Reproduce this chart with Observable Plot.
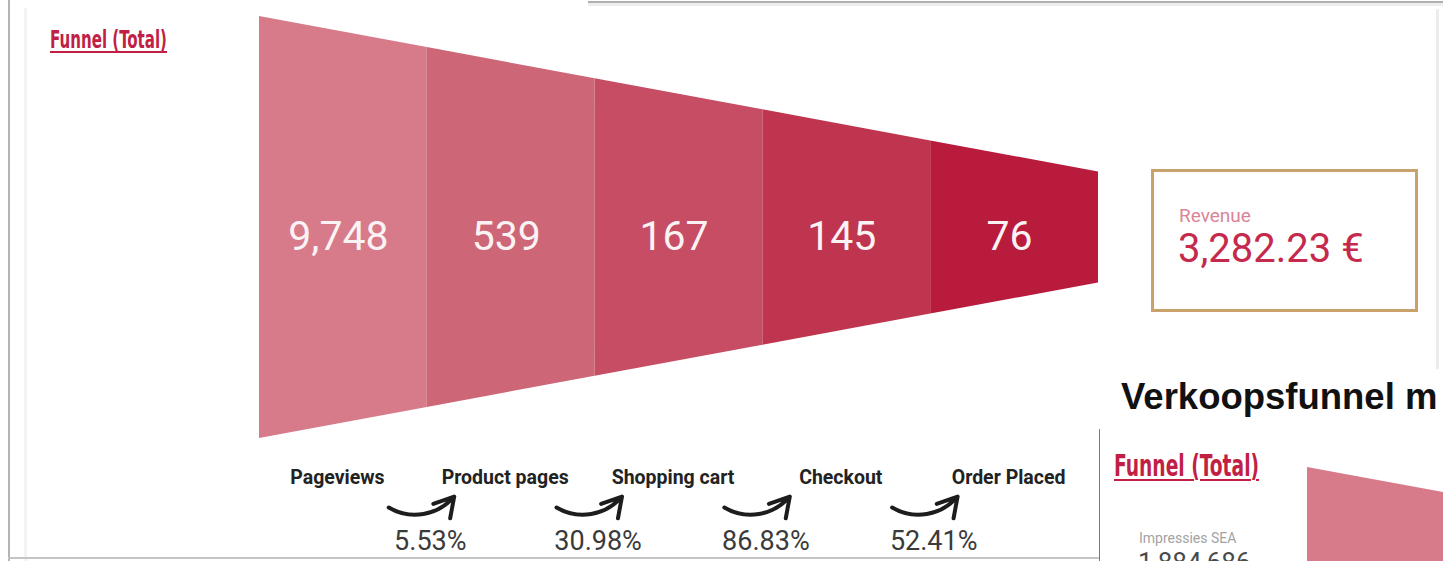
<!DOCTYPE html>
<html>
<head>
<meta charset="utf-8">
<script src="https://cdn.jsdelivr.net/npm/d3@7"></script>
<script src="https://cdn.jsdelivr.net/npm/@observablehq/plot@0.6"></script>
<style>
  html, body { margin: 0; padding: 0; background: #fff; overflow: hidden; }
  #page { position: relative; width: 1443px; height: 561px; overflow: hidden; background: #fff; font-family: Roboto, "Noto Sans", sans-serif; }
  .abs { position: absolute; white-space: nowrap; line-height: 1; }
  .ttl { font-family: "Liberation Sans Narrow", "DejaVu Sans Condensed", sans-serif; font-weight: 700; color: #c21f45; text-decoration: underline; text-decoration-thickness: 2px; text-underline-offset: 3px; transform: scaleX(0.67); transform-origin: left top; }
  .line { position: absolute; }
</style>
</head>
<body>
<div id="page">
  <div class="line" style="left:8px;top:0;width:2px;height:561px;background:#b4b4b4"></div>
  <div class="line" style="left:24px;top:8px;width:3px;height:553px;background:#f3f3f3"></div>
  <div class="line" style="left:8px;top:557px;width:1092px;height:2px;background:#c4c4c4"></div>
  <div class="line" style="left:588px;top:1px;width:855px;height:2px;background:#b0b0b0"></div>
  <div class="line" style="left:588px;top:3px;width:855px;height:3px;background:#ededed"></div>
  <div class="line" style="left:1436px;top:9px;width:3px;height:360px;background:#ececec"></div>
  <div class="line" style="left:1099px;top:429px;width:1px;height:132px;background:#7a7a7a"></div>

  <div id="chart" class="abs" style="left:0;top:0"></div>
  <div id="chart2" class="abs" style="left:1307px;top:467px"></div>

  <div class="abs ttl" style="left:50px;top:27px;font-size:25px">Funnel (Total)</div>
  <div class="abs ttl" style="left:1114px;top:450px;font-size:31px">Funnel (Total)</div>
  <div class="abs" style="left:1121px;top:379px;font-size:36.5px;font-weight:700;color:#111;font-family:'Liberation Sans', Arial, sans-serif">Verkoopsfunnel m</div>
  <div class="abs" style="left:1139px;top:531px;font-size:14px;color:#a3a3a3">Impressies SEA</div>
  <div id="imp" class="abs" style="left:1138px;top:549px;font-size:26px;color:#4a4a4a"></div>

  <div class="abs" style="left:1151px;top:169px;width:261px;height:137px;border:3px solid #c9a16b"></div>
  <div class="abs" style="left:1179px;top:206px;font-size:19px;color:#d98598">Revenue</div>
  <div id="rev" class="abs" style="left:1178px;top:229px;font-size:40px;color:#c52a4d"></div>
</div>
<script>
// ---- data ----
const stages = ["Pageviews", "Product pages", "Shopping cart", "Checkout", "Order Placed"];
const counts = [9748, 539, 167, 145, 76];
const conversionRates = [5.53, 30.98, 86.83, 52.41];
const revenue = 3282.23;
const impressionsSEA = 1884686;

// ---- style ----
const stageColors = ["#d77b8b", "#cd6677", "#c64d64", "#bf344f", "#b81b3b"];
const taperEnd = 0.263; // relative half-height of the funnel's narrow end

const n = stages.length;
const half = x => 1 - (1 - taperEnd) * x / n;
const shape = stages.flatMap((s, i) => [i, i + 1].map(x => ({stage: s, x, lo: -half(x), hi: half(x)})));
const stageRows = stages.map((s, i) => ({stage: s, i, count: counts[i]}));
const convRows = conversionRates.map((r, i) => ({i, rate: r}));

const fmtInt = d3.format(",");
const plot = Plot.plot({
  width: 1443,
  height: 561,
  marginLeft: 259,
  marginRight: 345,
  marginTop: 16,
  marginBottom: 123,
  x: {domain: [0, n], axis: null},
  y: {domain: [-1, 1], axis: null},
  color: {domain: stages, range: stageColors},
  style: {fontFamily: "Roboto, 'Noto Sans', sans-serif", background: "transparent", overflow: "visible"},
  marks: [
    Plot.area(shape, {x1: "x", y1: "lo", y2: "hi", z: "stage", fill: "stage"}),
    Plot.text(stageRows, {x: d => d.i + 0.5, y: 0, text: d => fmtInt(d.count), fill: "#fbf2f4", fontSize: 41, dy: 9, dx: -5}),
    Plot.text(stageRows, {x: d => d.i + 0.5, frameAnchor: "bottom", dy: 45, dx: -6, text: "stage", fontSize: 19.5, fontWeight: 700, fill: "#222"}),
    Plot.arrow(convRows, {x1: d => d.i + 1 - 0.2, x2: d => d.i + 1 + 0.19, y1: -1, y2: -0.948, dx: -5, dy: 69, bend: -40, headLength: 12, strokeWidth: 4, stroke: "#1d1d1d"}),
    Plot.text(convRows, {x: d => d.i + 1, frameAnchor: "bottom", dy: 111, dx: 3, text: d => d.rate.toFixed(2) + "%", fontSize: 27, fill: "#3b3b3b"})
  ]
});
document.getElementById("chart").appendChild(plot);

// second (cropped) funnel in the lower-right panel
const plot2 = Plot.plot({
  width: 136, height: 94, margin: 0,
  x: {domain: [0, 1], axis: null},
  y: {domain: [0, 1], axis: null},
  style: {background: "transparent"},
  marks: [Plot.area([{x: 0, top: 1}, {x: 1, top: 0.734}], {x1: "x", y1: 0, y2: "top", fill: stageColors[0]})]
});
document.getElementById("chart2").appendChild(plot2);

document.getElementById("rev").textContent = d3.format(",.2f")(revenue) + " €";
document.getElementById("imp").textContent = fmtInt(impressionsSEA);
</script>
</body>
</html>
